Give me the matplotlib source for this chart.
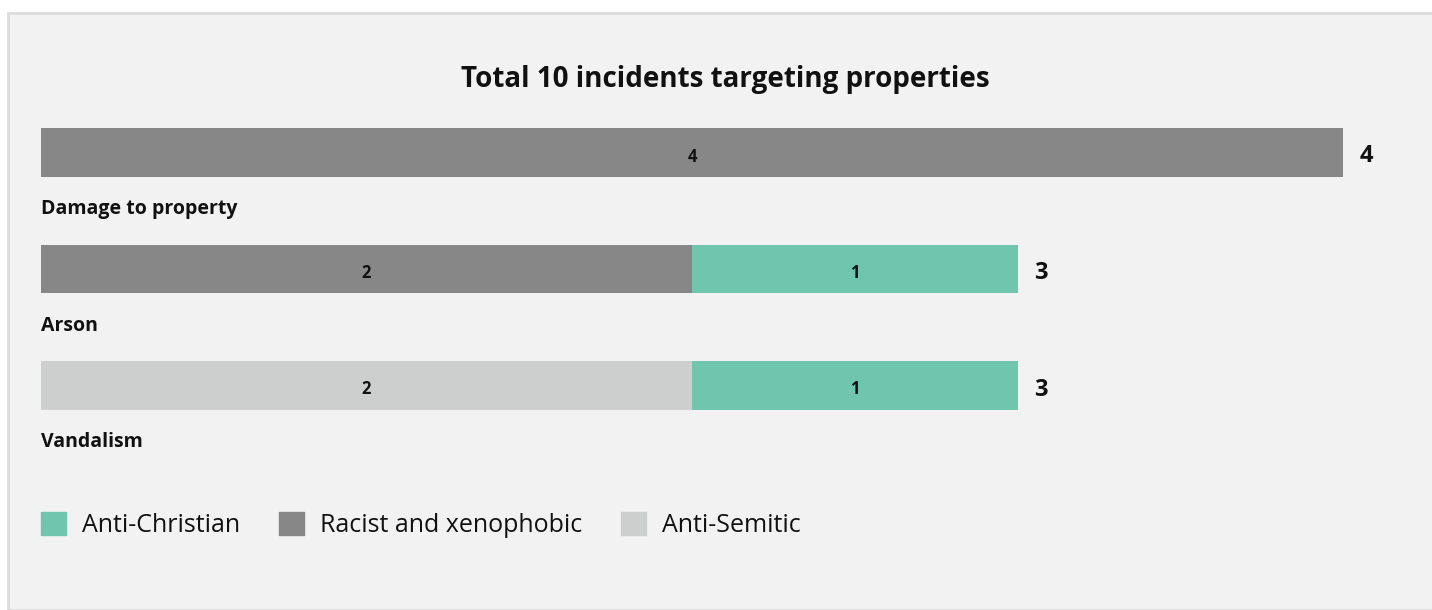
import matplotlib
matplotlib.use("Agg")
import matplotlib.pyplot as plt
from matplotlib.patches import Patch, Rectangle

plt.rcParams['font.family'] = ['Open Sans', 'DejaVu Sans']

# data
categories = ['Damage to property', 'Arson', 'Vandalism']
series_names = ['Anti-Christian', 'Racist and xenophobic', 'Anti-Semitic']
racist = [4, 2, 0]
semitic = [0, 0, 2]
christian = [0, 1, 1]
title = 'Total 10 incidents targeting properties'

col_christian = '#70c5ad'
col_racist = '#878787'
col_semitic = '#cccfce'

W, H = 1432, 610
fig = plt.figure(figsize=(W / 100, H / 100), dpi=100, facecolor='white')

# panel background with border
fig.patches.append(Rectangle((8 / W, 0), 1.0, (H - 13) / H, transform=fig.transFigure,
                             facecolor='#f2f2f2', edgecolor='#dcdcdc', lw=2, zorder=-10))

ax = fig.add_axes([41 / W, 1 - 443.75 / H, 1302 / W, 349.5 / H])
ax.set_facecolor('none')
ax.set_xlim(0, 4)
ax.set_ylim(2.5, -0.5)
ax.axis('off')

ypos = range(len(categories))
bh = 0.42
# stack order: racist / semitic first, christian after
left = [0] * len(categories)
for vals, col in [(racist, col_racist), (semitic, col_semitic), (christian, col_christian)]:
    ax.barh(ypos, vals, left=left, height=bh, color=col, zorder=2)
    for i, v in enumerate(vals):
        if v > 0:
            ax.annotate(str(v), (left[i] + v / 2, i), xytext=(0, -4), textcoords='offset pixels',
                        ha='center', va='center', fontsize=12, fontweight='bold',
                        color='#111111', zorder=3)
    left = [l + v for l, v in zip(left, vals)]

for i, cat in enumerate(categories):
    total = racist[i] + semitic[i] + christian[i]
    ax.annotate(str(total), (total, i), xytext=(17, -4), textcoords='offset pixels',
                ha='left', va='center', fontsize=17, fontweight='bold', color='#111111')
    ax.text(0, i + 0.485, cat, ha='left', va='center', fontsize=14,
            fontweight='bold', color='#111111')

fig.text(725 / W, 1 - 80 / H, title, ha='center', va='center', fontsize=20,
         fontweight='bold', color='#111111')

handles = [Patch(color=col_christian), Patch(color=col_racist), Patch(color=col_semitic)]
fig.legend(handles, series_names, loc='center left', bbox_to_anchor=(41 / W, 1 - 525 / H),
           ncol=3, frameon=False, fontsize=18, handlelength=1.0, handleheight=1.0,
           handletextpad=0.64, columnspacing=1.56, labelcolor='#111111',
           borderpad=0, borderaxespad=0)

fig.savefig('out.png', dpi=100, facecolor='white')
